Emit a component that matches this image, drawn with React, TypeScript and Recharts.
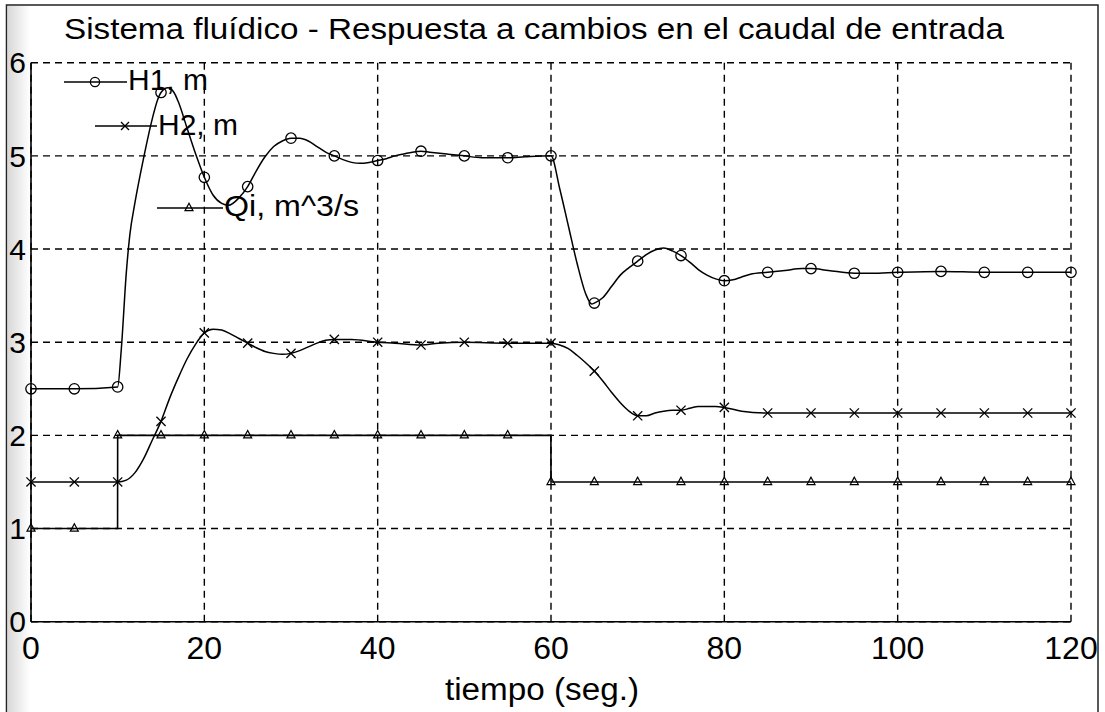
import React from "react";
import { LineChart, Line, XAxis, YAxis, CartesianGrid, Customized } from "recharts";

// ---- Data ----
const X_TICKS = [0, 20, 40, 60, 80, 100, 120];
const Y_TICKS = [0, 1, 2, 3, 4, 5, 6];
const MARKER_STEP = 5; // markers every 5 s

const H1_POINTS: [number, number][] = [
  [0, 2.5], [5, 2.5], [10, 2.52], [10.4, 2.9], [11, 3.75], [11.4, 4.15], [12, 4.5], [13, 4.98],
  [14, 5.4], [14.6, 5.6], [15, 5.68], [15.8, 5.73], [16.5, 5.68], [17, 5.58], [18, 5.3], [19, 5.02],
  [20, 4.77], [21, 4.58], [22, 4.49], [22.8, 4.47], [24, 4.55], [25, 4.67], [26, 4.84], [27, 4.99],
  [28, 5.1], [29, 5.16], [30, 5.19], [31, 5.19], [32, 5.16], [33, 5.1], [34, 5.04], [35, 5.0],
  [36, 4.96], [37, 4.93], [38, 4.92], [39, 4.93], [40, 4.95], [41, 4.97], [42, 5.0], [43, 5.02],
  [44, 5.04], [45, 5.05], [46, 5.04], [48, 5.02], [50, 5.0], [52, 4.98], [55, 4.98], [57, 4.99],
  [60, 5.0], [61, 4.65], [62, 4.25], [63, 3.85], [64, 3.52], [64.7, 3.41], [65, 3.42], [66, 3.48],
  [67, 3.6], [68, 3.72], [69, 3.8], [70, 3.87], [71, 3.94], [72, 3.99], [73, 4.01], [74, 3.98],
  [75, 3.93], [76, 3.86], [77, 3.78], [78, 3.72], [79, 3.68], [80, 3.66], [81, 3.67], [82, 3.7],
  [83, 3.73], [85, 3.75], [87, 3.77], [89, 3.79], [90, 3.79], [92, 3.77], [95, 3.74], [97, 3.74],
  [100, 3.75], [105, 3.76], [110, 3.75], [115, 3.75], [120, 3.75],
];

const H2_POINTS: [number, number][] = [
  [0, 1.5], [5, 1.5], [10, 1.5], [11, 1.52], [12, 1.6], [13, 1.75], [14, 1.95], [15, 2.15],
  [16, 2.4], [17, 2.62], [18, 2.82], [19, 2.98], [20, 3.1], [21, 3.14], [22, 3.13], [23, 3.09],
  [24, 3.04], [25, 2.99], [26, 2.94], [27, 2.9], [28, 2.88], [29, 2.87], [30, 2.88], [31, 2.91],
  [32, 2.95], [33, 2.99], [34, 3.02], [35, 3.03], [37, 3.03], [40, 3.0], [42, 2.99], [45, 2.97],
  [47, 2.99], [50, 3.0], [55, 2.99], [60, 2.99], [61, 2.97], [62, 2.93], [63, 2.86], [64, 2.78],
  [65, 2.69], [66, 2.58], [67, 2.46], [68, 2.35], [69, 2.26], [70, 2.21], [71, 2.21], [72, 2.24],
  [73, 2.26], [74, 2.27], [75, 2.27], [76, 2.29], [77, 2.31], [78, 2.31], [79, 2.31], [80, 2.3],
  [82, 2.26], [85, 2.24], [90, 2.24], [95, 2.24], [100, 2.24], [105, 2.24], [110, 2.24],
  [115, 2.24], [120, 2.24],
];

const QI_POINTS: [number, number][] = [
  [0, 1], [5, 1], [9.99, 1], [10, 2], [15, 2], [20, 2], [25, 2], [30, 2], [35, 2], [40, 2],
  [45, 2], [50, 2], [55, 2], [59.99, 2], [60, 1.5], [65, 1.5], [70, 1.5], [75, 1.5], [80, 1.5],
  [85, 1.5], [90, 1.5], [95, 1.5], [100, 1.5], [105, 1.5], [110, 1.5], [115, 1.5], [120, 1.5],
];

const TITLE = "Sistema fluídico - Respuesta a cambios en el caudal de entrada";
const X_LABEL = "tiempo (seg.)";
const LEGEND_H1 = "H1, m";
const LEGEND_H2 = "H2, m";
const LEGEND_QI = "Qi, m^3/s";

const toRows = (pts: [number, number][]) => pts.map(([t, v]) => ({ t, v }));
const h1Data = toRows(H1_POINTS);
const h2Data = toRows(H2_POINTS);
const qiData = toRows(QI_POINTS);

const FONT = "'Liberation Sans', Arial, Helvetica, sans-serif";
const isMarked = (t: number) => Math.abs(t / MARKER_STEP - Math.round(t / MARKER_STEP)) < 1e-9;

const CircleShape = ({ cx, cy, r = 5.2 }: any) => (
  <circle cx={cx} cy={cy} r={r} fill="none" stroke="#000" strokeWidth={1.3} />
);
const CrossShape = ({ cx, cy, s = 4.6 }: any) => (
  <g stroke="#000" strokeWidth={1.3}>
    <line x1={cx - s} y1={cy - s} x2={cx + s} y2={cy + s} />
    <line x1={cx - s} y1={cy + s} x2={cx + s} y2={cy - s} />
  </g>
);
const TriShape = ({ cx, cy }: any) => (
  <polygon
    points={`${cx},${cy - 4.8} ${cx - 4},${cy + 2.6} ${cx + 4},${cy + 2.6}`}
    fill="none"
    stroke="#000"
    strokeWidth={1.2}
  />
);

const makeDot = (Shape: any) => (props: any) => {
  const { cx, cy, payload, index } = props;
  if (!payload || !isMarked(payload.t) || cx == null || cy == null) return <g key={`d${index}`} />;
  return (
    <g key={`d${index}`}>
      <Shape cx={cx} cy={cy} />
    </g>
  );
};

const Overlay = () => (
  <g fontFamily={FONT} fill="#000">
    <defs>
      <linearGradient id="scanEdge" x1="0" x2="1" y1="0" y2="0">
        <stop offset="0" stopColor="#cfcfcf" />
        <stop offset="1" stopColor="#ffffff" />
      </linearGradient>
    </defs>
    <rect x={8} y={6} width={22} height={706} fill="url(#scanEdge)" opacity={0.8} />
    <rect x={6.5} y={5} width={1091.5} height={720} fill="none" stroke="#222" strokeWidth={1.5} />
    <text x={534} y={39} fontSize={30} textAnchor="middle" textLength={940} lengthAdjust="spacingAndGlyphs">
      {TITLE}
    </text>
    <text x={542} y={700} fontSize={31} textAnchor="middle" textLength={194} lengthAdjust="spacingAndGlyphs">
      {X_LABEL}
    </text>
    {/* legend */}
    <line x1={64} y1={82} x2={127} y2={82} stroke="#000" strokeWidth={1.5} />
    <CircleShape cx={95} cy={82} r={4.6} />
    <text x={128} y={90} fontSize={30}>{LEGEND_H1}</text>
    <line x1={95} y1={126} x2={157} y2={126} stroke="#000" strokeWidth={1.5} />
    <CrossShape cx={125} cy={126} s={4} />
    <text x={158} y={135} fontSize={30}>{LEGEND_H2}</text>
    <line x1={157} y1={208} x2={223} y2={208} stroke="#000" strokeWidth={1.5} />
    <TriShape cx={189} cy={208} />
    <text x={224} y={216} fontSize={30} textLength={135} lengthAdjust="spacingAndGlyphs">{LEGEND_QI}</text>
  </g>
);

export default function App() {
  return (
    <div style={{ position: "absolute", left: 0, top: 0, width: 1105, height: 712, background: "#fff" }}>
      <LineChart
        width={1105}
        height={712}
        margin={{ top: 62.7, right: 34, bottom: 50.3, left: 0 }}
        style={{ fontFamily: FONT }}
      >
        <CartesianGrid stroke="#000" strokeDasharray="7 5" strokeWidth={1.4} />
        <XAxis
          dataKey="t"
          type="number"
          domain={[0, 120]}
          ticks={X_TICKS}
          allowDuplicatedCategory={false}
          height={40}
          tickSize={0}
          tickMargin={15}
          axisLine={{ stroke: "#000", strokeWidth: 1.6 }}
          tick={{ fill: "#000", fontSize: 32, fontFamily: FONT }}
        />
        <XAxis
          xAxisId="top"
          orientation="top"
          dataKey="t"
          type="number"
          domain={[0, 120]}
          height={0}
          tick={false}
          tickLine={false}
          axisLine={{ stroke: "#000", strokeWidth: 1.6 }}
        />
        <YAxis
          type="number"
          domain={[0, 6]}
          ticks={Y_TICKS}
          width={31}
          tickSize={0}
          tickMargin={5}
          axisLine={{ stroke: "#000", strokeWidth: 1.6 }}
          tick={{ fill: "#000", fontSize: 30, fontFamily: FONT }}
        />
        <YAxis
          yAxisId="right"
          orientation="right"
          type="number"
          domain={[0, 6]}
          width={0}
          tick={false}
          tickLine={false}
          axisLine={{ stroke: "#000", strokeWidth: 1.6 }}
        />
        <Line
          data={qiData}
          dataKey="v"
          type="linear"
          stroke="#000"
          strokeWidth={1.6}
          dot={makeDot(TriShape)}
          activeDot={false}
          isAnimationActive={false}
        />
        <Line
          data={h2Data}
          dataKey="v"
          type="monotone"
          stroke="#000"
          strokeWidth={1.5}
          dot={makeDot(CrossShape)}
          activeDot={false}
          isAnimationActive={false}
        />
        <Line
          data={h1Data}
          dataKey="v"
          type="monotone"
          stroke="#000"
          strokeWidth={1.5}
          dot={makeDot(CircleShape)}
          activeDot={false}
          isAnimationActive={false}
        />
        <Customized component={<Overlay />} />
      </LineChart>
    </div>
  );
}
